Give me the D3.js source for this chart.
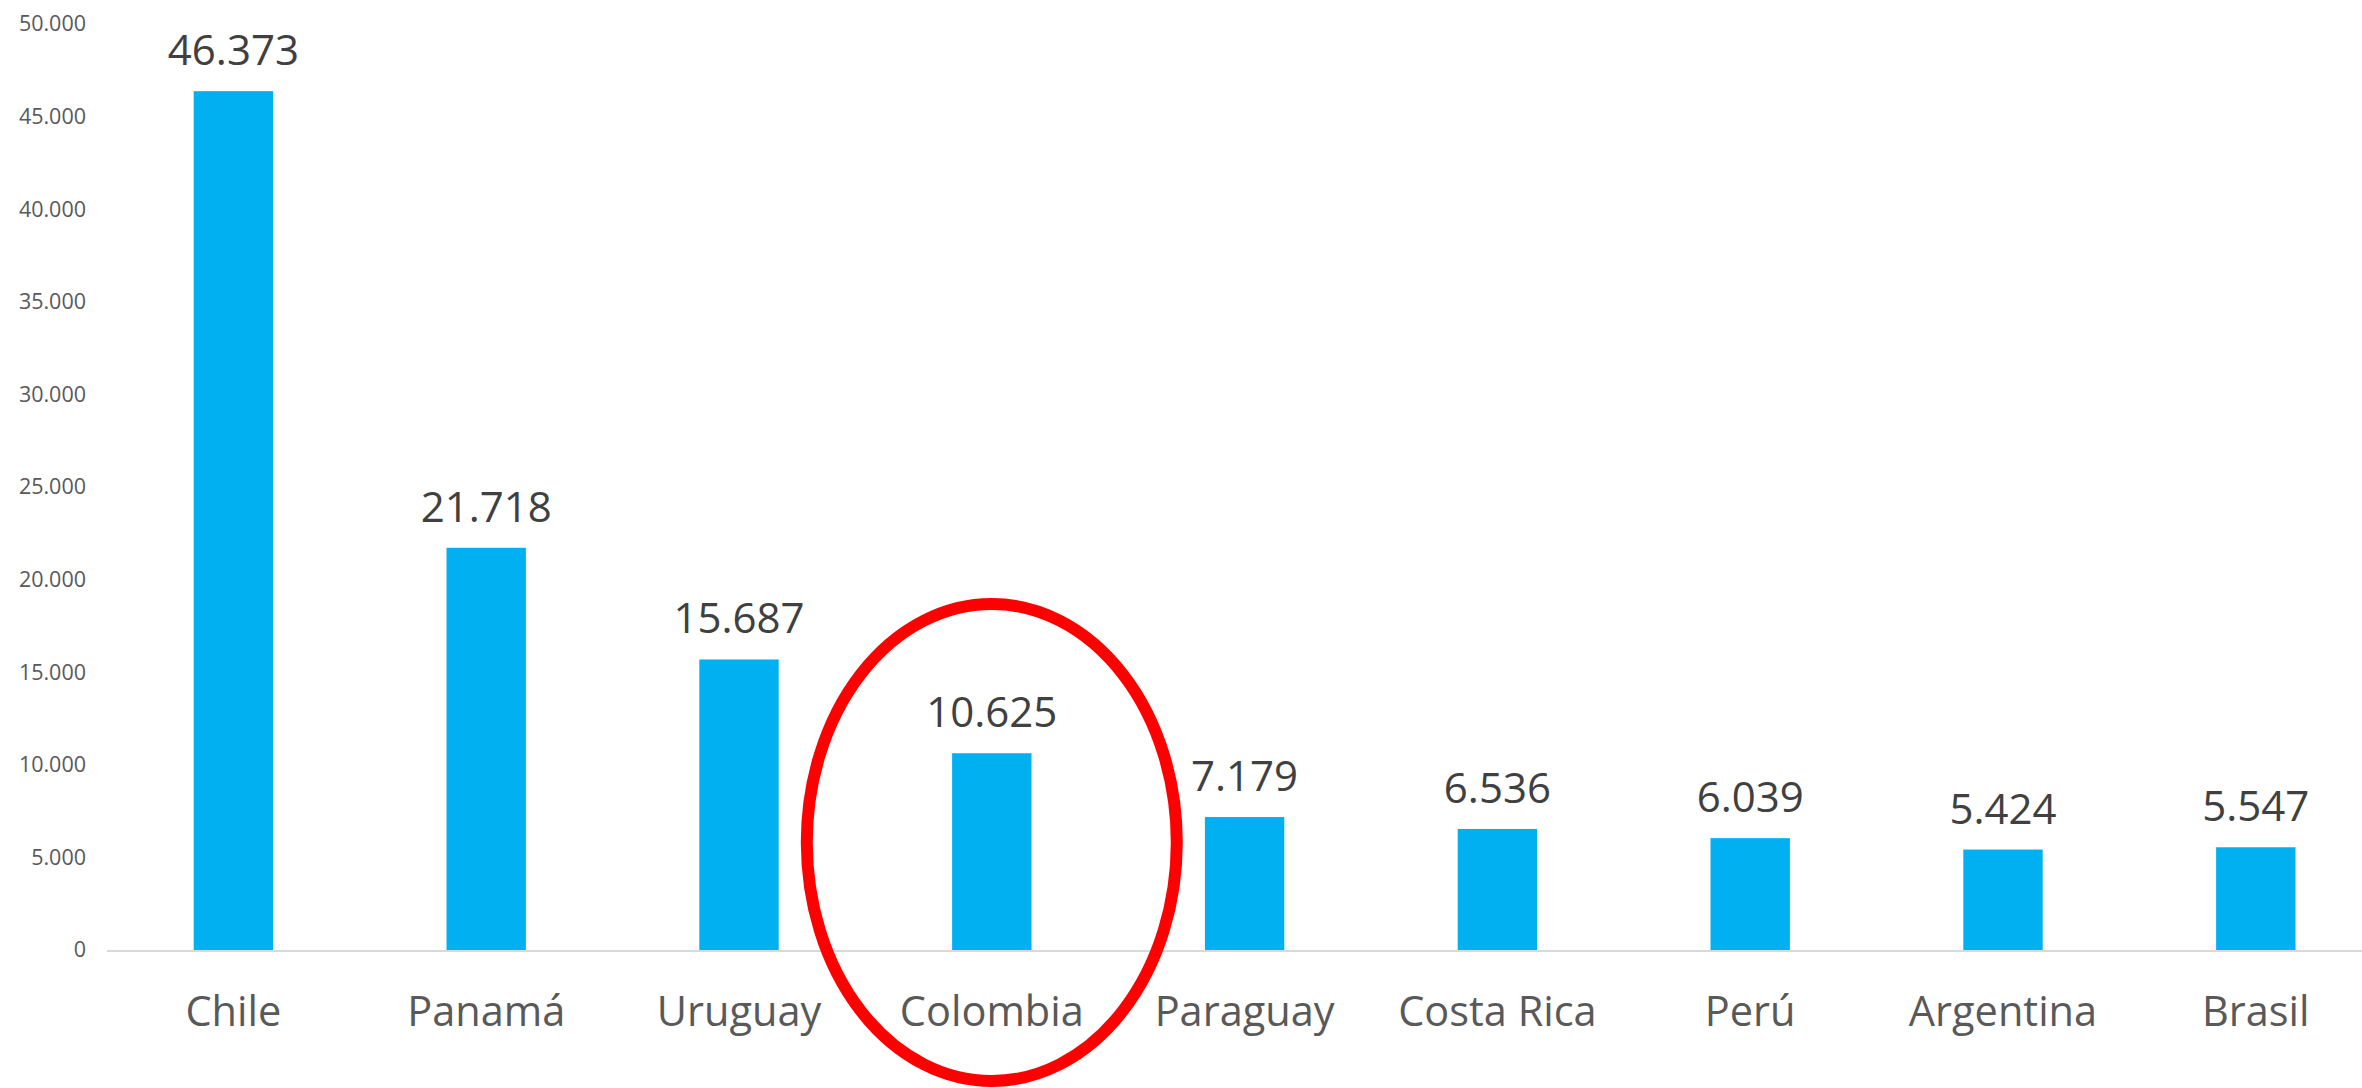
<!DOCTYPE html>
<html>
<head>
<meta charset="utf-8">
<script src="https://cdn.jsdelivr.net/npm/d3@7"></script>
<style>
  html, body { margin: 0; padding: 0; background: #fff; }
  svg { display: block; }
</style>
</head>
<body>
<svg id="chart" width="2362" height="1088"></svg>
<script>
const categories = ["Chile", "Panamá", "Uruguay", "Colombia", "Paraguay", "Costa Rica", "Perú", "Argentina", "Brasil"];
const values = [46373, 21718, 15687, 10625, 7179, 6536, 6039, 5424, 5547];
const yTicks = [0, 5000, 10000, 15000, 20000, 25000, 30000, 35000, 40000, 45000, 50000];
const highlighted = ["Colombia"];

(function () {
const svg = d3.select("#chart");
const W = 2362, H = 1088;
const plotLeft = 107, baseline = 950, plotTop = 24;

const fmt = v => d3.format(",")(v).replace(/,/g, ".");

const x = d3.scaleBand().domain(categories).range([plotLeft, plotLeft + 9 * 252.8]).paddingInner(0.686).paddingOuter(0.343);
const y = d3.scaleLinear().domain([0, 50000]).range([baseline, plotTop]);

const font = "'Open Sans', 'DejaVu Sans', sans-serif";

// y axis labels
const yAxis = d3.axisLeft(y).tickValues(yTicks).tickSize(0).tickPadding(0).tickFormat(fmt);
const gy = svg.append("g").attr("transform", `translate(86,0)`).call(yAxis);
gy.select(".domain").remove();
gy.selectAll("text").attr("font-family", font).attr("font-size", 21.5).attr("fill", "#595959");

// bars
svg.append("g").selectAll("rect").data(categories).join("rect")
  .attr("x", d => x(d))
  .attr("width", x.bandwidth())
  .attr("y", (d, i) => y(values[i]))
  .attr("height", (d, i) => baseline - y(values[i]))
  .attr("fill", "#00B0F0");

// baseline axis
const xAxis = d3.axisBottom(x).tickSize(0).tickPadding(0);
const gx = svg.append("g").attr("transform", `translate(0,${baseline})`).call(xAxis);
gx.select(".domain").remove();
gx.selectAll("text").remove();
svg.append("line").attr("x1", plotLeft).attr("x2", W).attr("y1", baseline + 1).attr("y2", baseline + 1)
  .attr("stroke", "#d9d9d9").attr("stroke-width", 2);

// category labels
svg.append("g").selectAll("text").data(categories).join("text")
  .attr("x", d => x(d) + x.bandwidth() / 2)
  .attr("y", 1026)
  .attr("text-anchor", "middle")
  .attr("font-family", font).attr("font-size", 41.5)
  .attr("fill", "#595959")
  .text(d => d);

// value labels
svg.append("g").selectAll("text").data(categories).join("text")
  .attr("x", d => x(d) + x.bandwidth() / 2)
  .attr("y", (d, i) => y(values[i]) - 26)
  .attr("text-anchor", "middle")
  .attr("font-family", font).attr("font-size", 42)
  .attr("fill", "#404040")
  .text((d, i) => fmt(values[i]));

// highlight ellipse
svg.append("g").selectAll("ellipse").data(highlighted).join("ellipse")
  .attr("cx", d => x(d) + x.bandwidth() / 2)
  .attr("cy", 842.5)
  .attr("rx", 185)
  .attr("ry", 238.5)
  .attr("fill", "none")
  .attr("stroke", "#FF0000")
  .attr("stroke-width", 12);
})();
</script>
</body>
</html>
